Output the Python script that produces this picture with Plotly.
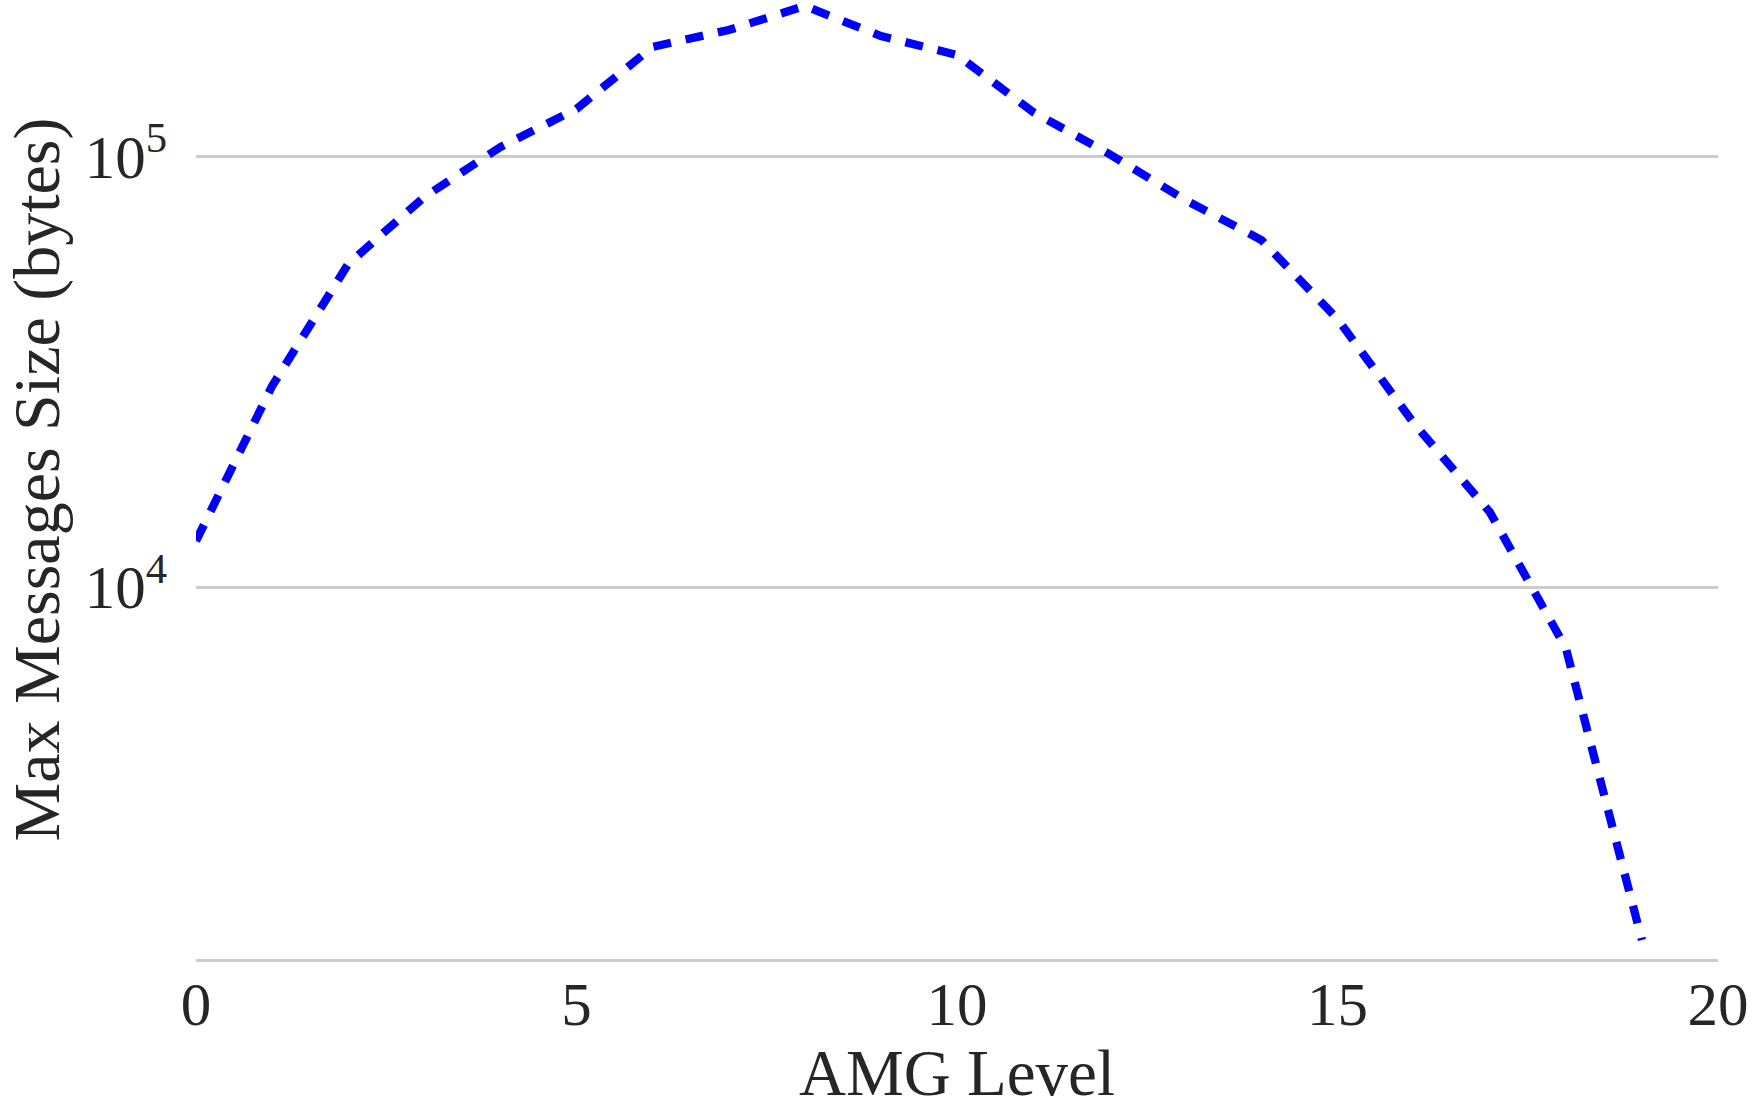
import plotly.graph_objects as go

# Data
amg_level = list(range(20))
max_msg_size = [12790, 29300, 56280, 80530, 105200, 128970, 179700, 196700, 223700,
                190500, 172100, 126900, 101350, 79260, 63980, 41930, 24040, 14940,
                7217, 1514]

y_tick_vals = [1e4, 1e5]
y_tick_text = ["10<sup>4</sup>", "10<sup>5</sup>"]
x_tick_vals = [0, 5, 10, 15, 20]
x_tick_text = ["0", "5", "10", "15", "20"]

FONT = "Liberation Serif"
TXT = "#262626"

fig = go.Figure()
fig.add_trace(go.Scatter(
    x=amg_level, y=max_msg_size, mode="lines",
    line=dict(color="#0000ff", width=8.3, dash="18px,15px"),
    showlegend=False, cliponaxis=False,
))

fig.update_layout(
    width=1753, height=1109,
    margin=dict(l=196, r=35, t=0, b=150),
    paper_bgcolor="white", plot_bgcolor="white",
    font=dict(family=FONT, color=TXT, size=60),
)
fig.update_xaxes(
    range=[0, 20], tickvals=x_tick_vals, ticktext=x_tick_text,
    showgrid=False, zeroline=False,
    showline=True, linecolor="#cccccc", linewidth=2.7,
    ticks="", ticklabelstandoff=-10,
    tickfont=dict(family=FONT, size=61, color=TXT),
    title=dict(text="AMG Level", font=dict(family=FONT, size=65, color=TXT), standoff=34),
    automargin=False,
)
fig.update_yaxes(
    type="log", range=[3.1359, 5.3635],
    tickvals=y_tick_vals, ticktext=y_tick_text,
    showgrid=True, gridcolor="#cccccc", gridwidth=2.7,
    zeroline=False, showline=False, ticks="", ticklabelstandoff=28,
    tickfont=dict(family=FONT, size=61, color=TXT),
    title=dict(text="Max Messages Size (bytes)", font=dict(family=FONT, size=66, color=TXT), standoff=4),
    automargin=False,
)

fig.write_html("out.html")
